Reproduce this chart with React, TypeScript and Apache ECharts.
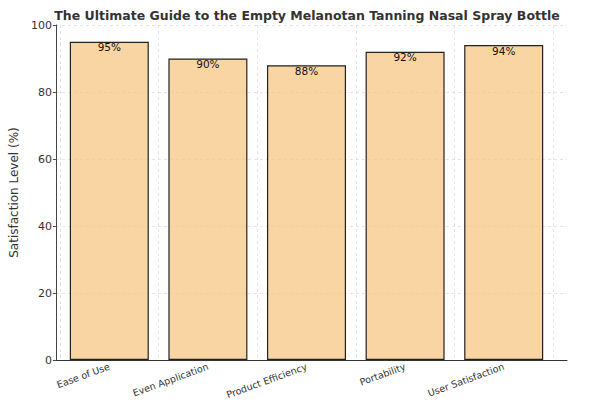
import { useEffect, useRef } from 'react';
import * as echarts from 'echarts';

const categories = ['Ease of Use', 'Even Application', 'Product Efficiency', 'Portability', 'User Satisfaction'];
const satisfaction = [95, 90, 88, 92, 94];
const yTicks = { min: 0, max: 100, interval: 20 };
const titleText = 'The Ultimate Guide to the Empty Melanotan Tanning Nasal Spray Bottle';

const FONT = 'DejaVu Sans';
const GRID_LINE = { color: '#dcdcdc', type: [3, 3] as number[], width: 0.8 };

export default function App() {
  const chartRef = useRef<HTMLDivElement>(null);

  useEffect(() => {
    if (!chartRef.current) return;
    document.body.style.margin = '0';
    const chart = echarts.init(chartRef.current, null, { renderer: 'svg' });

    const option: echarts.EChartsOption = {
      animation: false,
      backgroundColor: '#fff',
      textStyle: { fontFamily: FONT },
      // title centred over the plot area, like matplotlib does
      graphic: [
        {
          type: 'text',
          x: 307,
          y: 15,
          style: {
            text: titleText,
            fontFamily: FONT,
            fontSize: 12.5,
            fontWeight: 'bold',
            fill: '#333',
            align: 'center',
            verticalAlign: 'middle',
          },
        },
      ],
      // outer grid: axes frame + horizontal grid lines; inner grid: bars placed like matplotlib
      grid: [
        { left: 46, right: 30, top: 25, bottom: 51 },
        { left: 60, right: 44, top: 25, bottom: 51 },
      ],
      xAxis: [
        {
          type: 'value',
          gridIndex: 0,
          min: 0,
          max: 1,
          axisLine: { show: true, onZero: false, lineStyle: { color: '#333', width: 1 } },
          axisTick: { show: false },
          axisLabel: { show: false },
          splitLine: { show: false },
        },
        {
          type: 'category',
          gridIndex: 1,
          data: categories,
          axisLine: { show: false },
          axisTick: { show: false },
          axisLabel: {
            rotate: 20,
            fontSize: 9.5,
            color: '#333',
            fontFamily: FONT,
            margin: 6,
            interval: 0,
          },
          splitLine: { show: true, interval: 0, lineStyle: GRID_LINE },
        },
      ],
      yAxis: [
        {
          type: 'value',
          gridIndex: 0,
          ...yTicks,
          name: 'Satisfaction Level (%)',
          nameLocation: 'middle',
          nameGap: 30,
          nameTextStyle: { fontFamily: FONT, fontSize: 12, color: '#333' },
          axisLine: { show: true, lineStyle: { color: '#444', width: 1 } },
          axisTick: { show: true, length: 3, lineStyle: { color: '#444' } },
          axisLabel: { fontSize: 11, color: '#333', fontFamily: FONT, margin: 4 },
          splitLine: { show: true, lineStyle: GRID_LINE },
        },
        {
          type: 'value',
          gridIndex: 1,
          ...yTicks,
          show: false,
          splitLine: { show: false },
        },
      ],
      series: [
        {
          type: 'bar',
          xAxisIndex: 1,
          yAxisIndex: 1,
          data: satisfaction,
          barWidth: 79,
          itemStyle: {
            color: 'rgba(248, 195, 126, 0.7)',
            borderColor: '#222',
            borderWidth: 1.2,
          },
          label: {
            show: true,
            position: 'insideTop',
            distance: 0,
            formatter: (p: any) => `${p.value}%`,
            fontSize: 10.5,
            color: '#111',
            fontFamily: FONT,
          },
        },
      ],
    };

    chart.setOption(option);
    return () => chart.dispose();
  }, []);

  return <div ref={chartRef} style={{ width: 597, height: 411 }} />;
}
